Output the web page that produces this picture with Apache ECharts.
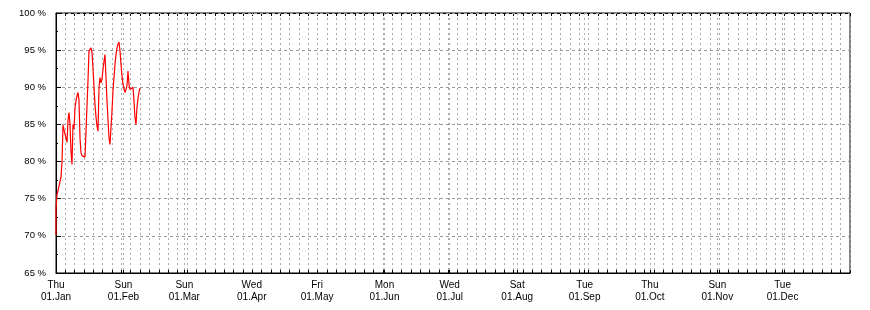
<!DOCTYPE html>
<html>
<head>
<meta charset="utf-8">
<script src="https://cdn.jsdelivr.net/npm/echarts@6/dist/echarts.min.js"></script>
<style>
html,body{margin:0;padding:0;background:#fff;}
#chart{width:870px;height:310px;}
</style>
</head>
<body>
<div id="chart"></div>
<script>
// ---- data ----
var startTime = '2015-01-01T00:00:00Z';
var endTime = '2016-01-01T00:00:00Z';
var stepHours = 11.03;
var values = [70.1, 73.6, 75.6, 76.1, 76.7, 77.3, 77.9, 79.9, 84.9, 84.3, 83.7, 83.2, 82.6, 85.6, 86.6, 85.0, 81.4, 79.6, 85.0, 84.4, 87.2,
  88.2, 88.8, 89.3, 88.3, 83.2, 81.2, 80.8, 80.7, 80.6, 80.6, 80.5, 80.4, 90.9, 94.9, 95.1, 95.3, 94.7, 92.6, 90.0, 87.7,
  86.0, 84.8, 84.1, 89.9, 91.3, 90.6, 91.1, 92.4, 93.5, 94.4, 91.3, 88.2, 85.7, 83.2, 82.3, 82.2, 86.8, 89.5, 91.3, 93.1,
  94.4, 95.3, 95.8, 96.1, 94.9, 93.1, 91.5, 90.4, 89.9, 89.3, 89.7, 90.2, 92.2, 90.4, 89.7, 89.9, 89.5, 90.0, 88.2, 85.9,
  85.0, 87.3, 88.5, 89.3, 89.9];
var xTickDates = ['2015-01-01', '2015-02-01', '2015-03-01', '2015-04-01', '2015-05-01', '2015-06-01',
  '2015-07-01', '2015-08-01', '2015-09-01', '2015-10-01', '2015-11-01', '2015-12-01'];
var xTickLabels = ['Thu\n01.Jan', 'Sun\n01.Feb', 'Sun\n01.Mar', 'Wed\n01.Apr', 'Fri\n01.May', 'Mon\n01.Jun',
  'Wed\n01.Jul', 'Sat\n01.Aug', 'Tue\n01.Sep', 'Thu\n01.Oct', 'Sun\n01.Nov', 'Tue\n01.Dec'];
var yTicks = [65, 70, 75, 80, 85, 90, 95, 100];
var yTickLabels = ['65 %', '70 %', '75 %', '80 %', '85 %', '90 %', '95 %', '100 %'];
var gridDivisions = 85; // minor vertical grid divisions across the year

// ---- build ----
var t0 = Date.parse(startTime);
var t1 = Date.parse(endTime);
var seriesData = values.map(function (v, i) {
  // first two readings share the first pixel column
  var k = i === 0 ? 0 : i - 1;
  return [t0 + k * stepHours * 3600000, v];
});
var monthTimes = xTickDates.map(function (d) { return Date.parse(d + 'T00:00:00Z'); });

var chart = echarts.init(document.getElementById('chart'), null, {renderer: 'canvas'});
var font = 'Liberation Sans, Arial, sans-serif';
chart.setOption({
  animation: false,
  backgroundColor: '#fff',
  grid: {left: 56, top: 13, right: 20, bottom: 37, show: true, borderColor: '#000', borderWidth: 1, backgroundColor: '#fff'},
  xAxis: [
    {
      type: 'value', min: t0, max: t1, position: 'bottom', z: 5,
      axisLine: {show: true, onZero: false, lineStyle: {color: '#000', width: 1}},
      axisTick: {show: true, inside: true, length: 3, customValues: monthTimes, lineStyle: {color: '#000'}},
      axisLabel: {
        show: true, customValues: monthTimes, margin: 6, color: '#000', fontFamily: font, fontSize: 10, lineHeight: 12,
        formatter: function (v) { var i = monthTimes.indexOf(v); return i >= 0 ? xTickLabels[i] : ''; }
      },
      splitLine: {show: true, lineStyle: {color: '#aaa', type: [2, 3], width: 1}}
    },
    {
      type: 'value', min: 0, max: gridDivisions, interval: 1, position: 'bottom', z: 4,
      axisLine: {show: false},
      axisTick: {show: true, inside: true, length: 3, lineStyle: {color: '#000'}},
      axisLabel: {show: false},
      splitLine: {show: true, lineStyle: {color: '#aaa', type: [2, 3], width: 1}}
    },
    {
      type: 'value', min: 0, max: gridDivisions, interval: 1, position: 'top', z: 4,
      axisLine: {show: true, onZero: false, lineStyle: {color: '#000'}},
      axisTick: {show: true, inside: true, length: 3, lineStyle: {color: '#000'}},
      axisLabel: {show: false},
      splitLine: {show: false}
    }
  ],
  yAxis: {
    type: 'value', min: 65, max: 100, interval: 5, z: 5,
    axisLine: {show: true, onZero: false, lineStyle: {color: '#000'}},
    axisTick: {show: true, inside: true, length: 5, lineStyle: {color: '#000'}},
    minorTick: {show: true, splitNumber: 2, length: 2, lineStyle: {color: '#000'}},
    axisLabel: {
      margin: 10, color: '#000', fontFamily: font, fontSize: 9.5,
      formatter: function (v) { var i = yTicks.indexOf(v); return i >= 0 ? yTickLabels[i] : ''; }
    },
    splitLine: {show: true, lineStyle: {color: '#999', type: [3, 3], width: 1}}
  },
  series: [{
    type: 'line', xAxisIndex: 0, yAxisIndex: 0, data: seriesData, showSymbol: false, symbol: 'none',
    lineStyle: {color: '#ff0000', width: 1.2}, z: 10
  }]
});
</script>
</body>
</html>
